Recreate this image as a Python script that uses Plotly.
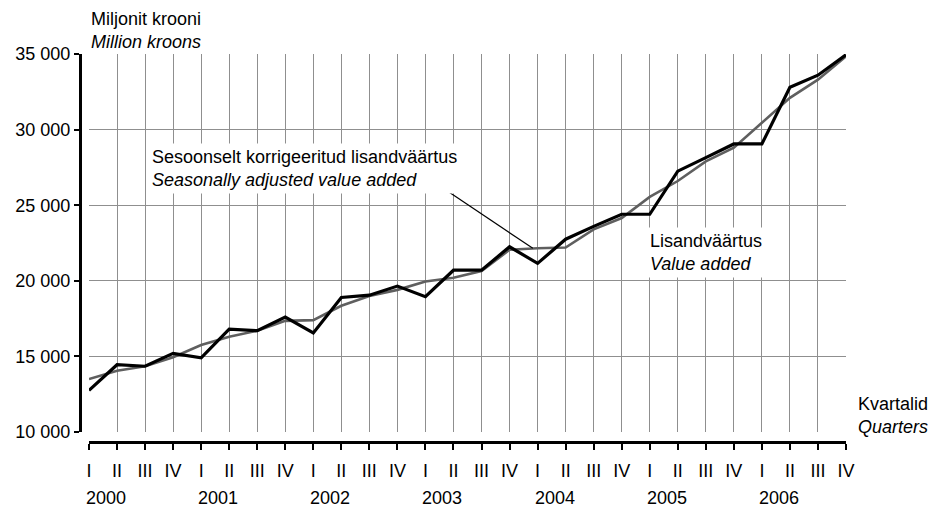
import plotly.graph_objects as go

# Quarterly value added, million kroons, 2000 Q1 - 2006 Q4
years = ["2000", "2001", "2002", "2003", "2004", "2005", "2006"]
quarter_names = ["I", "II", "III", "IV"]
quarter_labels = [q for _ in years for q in quarter_names]

value_added = [12750, 14450, 14350, 15200, 14900, 16800, 16700, 17600,
               16550, 18900, 19050, 19650, 18950, 20700, 20700, 22250,
               21150, 22750, 23600, 24400, 24400, 27250, 28150, 29050,
               29050, 32800, 33600, 34950]
seasonally_adjusted = [13500, 14050, 14350, 14950, 15750, 16300, 16700, 17350,
                       17400, 18350, 19000, 19400, 19950, 20200, 20650, 22050,
                       22150, 22200, 23400, 24150, 25550, 26600, 27900, 28800,
                       30450, 32100, 33300, 34850]

y_ticks = [10000, 15000, 20000, 25000, 30000, 35000]

idx = list(range(len(quarter_labels)))
FONT = "Liberation Sans, Arial, sans-serif"
FS = 18
GRID = "#8f8f8f"

fig = go.Figure()
fig.add_trace(go.Scatter(x=idx, y=seasonally_adjusted, mode="lines",
                         line=dict(color="#5f5f5f", width=2.6),
                         showlegend=False, hoverinfo="skip"))
fig.add_trace(go.Scatter(x=idx, y=value_added, mode="lines",
                         line=dict(color="#000000", width=3.2),
                         showlegend=False, hoverinfo="skip"))

L, R, T, B = 80, 89, 54, 66
W, H = 935, 508
pw = W - L - R
ph = H - T - B
x0_frac = 9 / pw
y0_frac = 10 / ph

fig.update_xaxes(
    range=[0, len(idx) - 1], domain=[x0_frac, 1],
    anchor="free", position=0,
    tickmode="array", tickvals=idx, ticktext=quarter_labels,
    showgrid=True, gridcolor=GRID, gridwidth=1,
    showline=True, linecolor="black", linewidth=3,
    ticks="outside", ticklen=6, tickwidth=1.5, tickcolor="black",
    ticklabelstandoff=5,
    tickfont=dict(family=FONT, size=FS, color="black"),
    zeroline=False, fixedrange=True,
)
fig.update_yaxes(
    range=[10000, 35000], domain=[y0_frac, 1],
    anchor="free", position=0,
    tickmode="array", tickvals=y_ticks, tickformat=",d",
    showgrid=True, gridcolor=GRID, gridwidth=1,
    showline=True, linecolor="black", linewidth=3,
    ticks="outside", ticklen=5, tickwidth=1.5, tickcolor="black",
    tickfont=dict(family=FONT, size=FS, color="black"),
    zeroline=False, fixedrange=True,
)

annotations = []
# year labels under the first quarter of each year
for i, yr in enumerate(years):
    annotations.append(dict(x=i * 4, y=-0.145, xref="x", yref="paper",
                            text=yr, showarrow=False, xanchor="left",
                            yanchor="middle", xshift=-5,
                            font=dict(family=FONT, size=FS, color="black")))

annotations += [
    dict(x=(89 - L) / pw, y=(H - B - 30) / ph, xref="paper", yref="paper",
         text="Miljonit krooni<br><i>Million kroons</i>", showarrow=False,
         xanchor="left", yanchor="middle", align="left",
         font=dict(family=FONT, size=FS, color="black")),
    dict(x=(856 - L) / pw, y=(H - B - 415) / ph, xref="paper", yref="paper",
         text="Kvartalid<br><i>Quarters</i>", showarrow=False,
         xanchor="left", yanchor="middle", align="left",
         font=dict(family=FONT, size=FS, color="black")),
    dict(x=2.1, y=27450, xref="x", yref="y",
         text="Sesoonselt korrigeeritud lisandväärtus<br><i>Seasonally adjusted value added</i>",
         showarrow=False, xanchor="left", yanchor="middle", align="left",
         bgcolor="white", borderpad=3,
         font=dict(family=FONT, size=FS, color="black")),
    dict(x=19.85, y=21900, xref="x", yref="y",
         text="Lisandväärtus<br><i>Value added</i>",
         showarrow=False, xanchor="left", yanchor="middle", align="left",
         bgcolor="white", borderpad=3,
         font=dict(family=FONT, size=FS, color="black")),
]

# leader line from the seasonally adjusted label to its series
fig.add_shape(type="line", xref="x", yref="y",
              x0=12.73, y0=26000, x1=15.83, y1=22150,
              line=dict(color="black", width=1.2))

fig.update_layout(
    width=W, height=H,
    margin=dict(l=L, r=R, t=T, b=B),
    paper_bgcolor="white", plot_bgcolor="white",
    separators=". ",
    annotations=annotations,
    font=dict(family=FONT, size=FS, color="black"),
)

fig.write_html("out.html")
